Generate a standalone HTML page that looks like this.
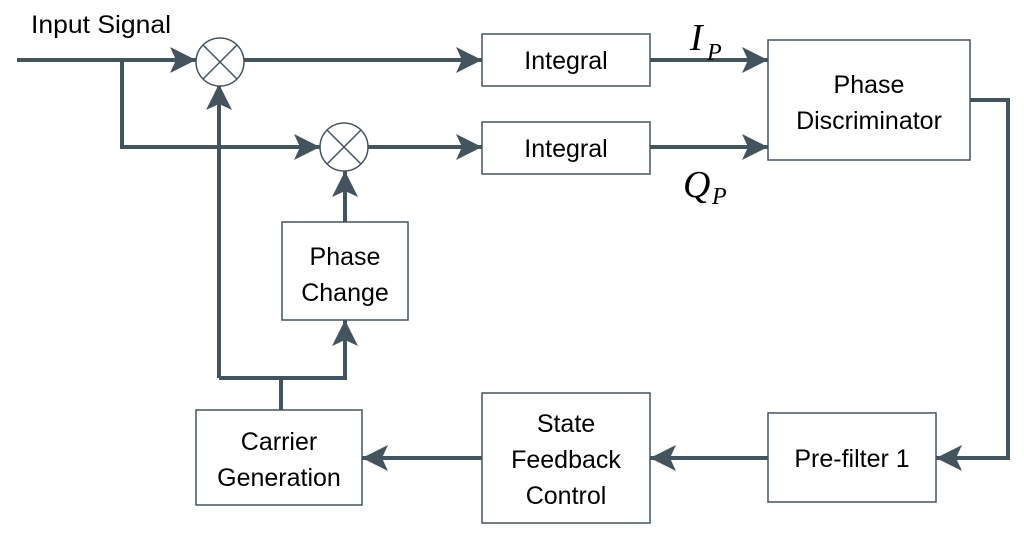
<!DOCTYPE html>
<html><head><style>body{margin:0;background:#fff}</style></head><body>
<svg width="1024" height="539" xmlns="http://www.w3.org/2000/svg" font-family="Liberation Sans, sans-serif">
<defs><marker id="a" markerUnits="userSpaceOnUse" markerWidth="28" markerHeight="26" refX="26" refY="13" orient="auto"><path d="M0,0 L26,13 L0,26 L6,13 Z" fill="#43545e"/></marker></defs>
<g stroke="#43545e" stroke-width="4" fill="none">
<line x1="17" y1="60" x2="196" y2="60" marker-end="url(#a)"/>
<polyline points="122,60 122,147 320,147" marker-end="url(#a)"/>
<line x1="244" y1="60" x2="482" y2="60" marker-end="url(#a)"/>
<line x1="368" y1="147" x2="482" y2="147" marker-end="url(#a)"/>
<line x1="650" y1="60" x2="768" y2="60" marker-end="url(#a)"/>
<line x1="650" y1="147" x2="768" y2="147" marker-end="url(#a)"/>
<polyline points="970,100 1008,100 1008,458 936,458" marker-end="url(#a)"/>
<line x1="768" y1="458" x2="650" y2="458" marker-end="url(#a)"/>
<line x1="482" y1="458" x2="362" y2="458" marker-end="url(#a)"/>
<polyline points="281,410 281,378"/>
<polyline points="219,378 345,378 345,320" marker-end="url(#a)"/>
<line x1="219" y1="378" x2="219" y2="84" marker-end="url(#a)"/>
<line x1="345" y1="222" x2="345" y2="171" marker-end="url(#a)"/>
</g>
<g stroke="#43545e" stroke-width="1.5" fill="#fff">
<circle cx="220" cy="62" r="24"/><circle cx="344" cy="147" r="24"/>
<rect x="482" y="34" width="168" height="52"/><rect x="482" y="122" width="168" height="52"/>
<rect x="768" y="40" width="202" height="120"/>
<rect x="282" y="222" width="126" height="98"/>
<rect x="768" y="413" width="168" height="89"/>
<rect x="482" y="393" width="168" height="130"/>
<rect x="196" y="410" width="166" height="95"/>
</g>
<g stroke="#43545e" stroke-width="1.5">
<line x1="203" y1="45" x2="237" y2="79"/><line x1="237" y1="45" x2="203" y2="79"/>
<line x1="327" y1="130" x2="361" y2="164"/><line x1="361" y1="130" x2="327" y2="164"/>
</g>
<g font-size="25" fill="#000" text-anchor="middle">
<text x="101" y="33" textLength="140" lengthAdjust="spacingAndGlyphs">Input Signal</text>
<text x="566" y="69">Integral</text>
<text x="566" y="157">Integral</text>
<text x="869" y="93">Phase</text><text x="869" y="129">Discriminator</text>
<text x="345" y="265">Phase</text><text x="345" y="301">Change</text>
<text x="852" y="467">Pre-filter 1</text>
<text x="566" y="432">State</text><text x="566" y="468">Feedback</text><text x="566" y="504">Control</text>
<text x="279" y="450">Carrier</text><text x="279" y="486">Generation</text>
</g>
<g font-family="Liberation Serif, serif" font-style="italic" fill="#000">
<text x="690" y="50" font-size="38">I</text><text x="707" y="60" font-size="24">P</text>
<text x="683" y="197" font-size="38">Q</text><text x="712" y="204" font-size="24">P</text>
</g>
</svg>
</body></html>
